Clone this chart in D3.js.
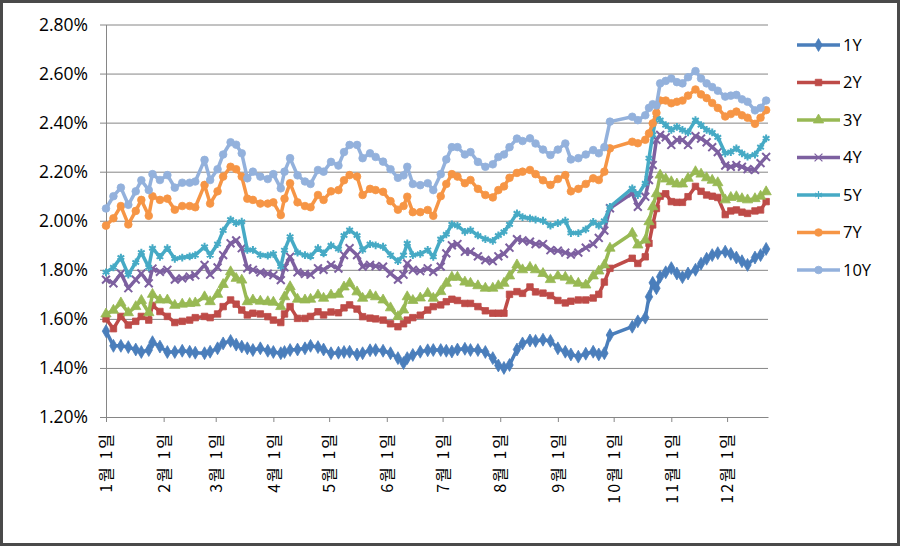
<!DOCTYPE html>
<html><head><meta charset="utf-8">
<script src="https://cdn.jsdelivr.net/npm/d3@7"></script>
<style>body{margin:0;background:#fff}svg{display:block}</style>
</head><body><svg id="c" width="901" height="547"></svg>
<script>
const dates = ["2015-01-01","2015-01-05","2015-01-09","2015-01-13","2015-01-17","2015-01-20","2015-01-24","2015-01-26","2015-01-30",
"2015-02-03","2015-02-07","2015-02-11","2015-02-15","2015-02-18","2015-02-23","2015-02-26",
"2015-03-02","2015-03-05","2015-03-09","2015-03-12","2015-03-15","2015-03-18","2015-03-21","2015-03-25","2015-03-29",
"2015-04-01","2015-04-05","2015-04-07","2015-04-10","2015-04-14","2015-04-18","2015-04-21","2015-04-25","2015-04-28",
"2015-05-02","2015-05-06","2015-05-09","2015-05-12","2015-05-16","2015-05-19","2015-05-23","2015-05-26","2015-05-30",
"2015-06-03","2015-06-07","2015-06-10","2015-06-12","2015-06-15","2015-06-19","2015-06-23","2015-06-26","2015-06-30",
"2015-07-03","2015-07-06","2015-07-09","2015-07-13","2015-07-16","2015-07-20","2015-07-24","2015-07-28","2015-07-31",
"2015-08-03","2015-08-06","2015-08-10","2015-08-13","2015-08-17","2015-08-20","2015-08-24","2015-08-28",
"2015-09-01","2015-09-05","2015-09-08","2015-09-12","2015-09-16","2015-09-20","2015-09-23","2015-09-26","2015-09-29",
"2015-10-11","2015-10-14","2015-10-18","2015-10-20","2015-10-22","2015-10-24","2015-10-26","2015-10-29",
"2015-11-01","2015-11-04","2015-11-07","2015-11-10","2015-11-14","2015-11-17","2015-11-20","2015-11-23","2015-11-26","2015-11-30",
"2015-12-03","2015-12-06","2015-12-09","2015-12-12","2015-12-16","2015-12-19","2015-12-22"];

const y1Y = [1.55,1.49,1.49,1.485,1.475,1.465,1.473,1.505,1.487,
1.465,1.465,1.47,1.466,1.462,1.46,1.466,
1.48,1.50,1.51,1.495,1.487,1.48,1.473,1.48,1.47,
1.465,1.46,1.465,1.473,1.475,1.48,1.49,1.485,1.475,
1.46,1.462,1.465,1.466,1.455,1.46,1.472,1.473,1.47,
1.46,1.44,1.42,1.44,1.453,1.466,1.472,1.473,1.473,
1.47,1.467,1.475,1.478,1.473,1.473,1.465,1.44,1.41,
1.40,1.412,1.475,1.50,1.512,1.51,1.515,1.51,
1.48,1.466,1.455,1.446,1.458,1.466,1.455,1.46,1.534,
1.568,1.59,1.605,1.69,1.747,1.725,1.772,1.79,
1.807,1.785,1.77,1.785,1.80,1.825,1.845,1.86,1.868,1.874,
1.865,1.85,1.835,1.82,1.85,1.86,1.885];

const y2Y = [1.60,1.56,1.61,1.575,1.59,1.61,1.595,1.655,1.63,
1.61,1.585,1.59,1.595,1.605,1.61,1.605,
1.62,1.65,1.677,1.66,1.636,1.616,1.623,1.62,1.609,
1.595,1.585,1.62,1.65,1.602,1.602,1.61,1.629,1.616,
1.628,1.625,1.645,1.657,1.64,1.609,1.603,1.60,1.595,
1.58,1.568,1.58,1.595,1.605,1.615,1.636,1.65,1.657,
1.67,1.68,1.675,1.663,1.663,1.65,1.633,1.623,1.623,
1.623,1.70,1.711,1.704,1.73,1.71,1.705,1.695,
1.675,1.665,1.672,1.677,1.677,1.685,1.70,1.75,1.806,
1.847,1.826,1.853,1.908,1.983,2.05,2.10,2.11,
2.078,2.075,2.075,2.098,2.14,2.12,2.105,2.10,2.095,2.025,
2.04,2.044,2.035,2.03,2.04,2.044,2.078];

const y3Y = [1.62,1.635,1.665,1.625,1.65,1.675,1.625,1.70,1.677,
1.677,1.655,1.66,1.663,1.665,1.69,1.67,
1.70,1.74,1.792,1.765,1.758,1.67,1.677,1.672,1.67,
1.668,1.65,1.69,1.731,1.68,1.677,1.68,1.697,1.684,
1.697,1.70,1.73,1.745,1.71,1.684,1.697,1.69,1.677,
1.645,1.609,1.636,1.69,1.675,1.685,1.704,1.684,1.711,
1.745,1.77,1.77,1.75,1.745,1.735,1.725,1.725,1.735,
1.745,1.775,1.82,1.80,1.81,1.80,1.785,1.76,
1.775,1.77,1.755,1.745,1.738,1.775,1.795,1.82,1.888,
1.949,1.901,1.921,1.996,2.057,2.11,2.186,2.17,
2.159,2.15,2.15,2.173,2.20,2.19,2.175,2.165,2.155,2.085,
2.095,2.098,2.09,2.085,2.09,2.10,2.118];

const y4Y = [1.76,1.745,1.785,1.725,1.76,1.785,1.745,1.805,1.792,
1.80,1.76,1.765,1.772,1.778,1.82,1.78,
1.81,1.86,1.908,1.92,1.888,1.806,1.80,1.79,1.784,
1.778,1.758,1.81,1.853,1.79,1.783,1.78,1.806,1.80,
1.82,1.805,1.86,1.888,1.86,1.813,1.82,1.815,1.813,
1.785,1.76,1.78,1.826,1.80,1.795,1.806,1.792,1.813,
1.867,1.90,1.905,1.874,1.874,1.855,1.84,1.835,1.855,
1.865,1.89,1.925,1.92,1.915,1.905,1.905,1.88,
1.878,1.87,1.862,1.87,1.89,1.905,1.93,1.96,2.051,
2.112,2.057,2.098,2.166,2.227,2.33,2.35,2.34,
2.309,2.33,2.33,2.309,2.345,2.335,2.32,2.30,2.28,2.225,
2.22,2.227,2.22,2.21,2.207,2.235,2.26];

const y5Y = [1.79,1.81,1.85,1.78,1.83,1.87,1.81,1.888,1.853,
1.888,1.845,1.85,1.855,1.86,1.894,1.86,
1.905,1.96,2.005,1.99,1.996,1.881,1.881,1.86,1.858,
1.865,1.813,1.88,1.935,1.87,1.86,1.855,1.888,1.867,
1.90,1.885,1.94,1.962,1.94,1.881,1.905,1.90,1.894,
1.86,1.835,1.86,1.908,1.86,1.865,1.881,1.853,1.925,
1.945,1.985,1.98,1.955,1.962,1.94,1.925,1.918,1.94,
1.955,1.985,2.03,2.015,2.01,2.005,2.0,1.98,
1.99,2.0,1.95,1.95,1.965,1.995,1.98,2.00,2.057,
2.132,2.105,2.153,2.255,2.35,2.43,2.41,2.39,
2.37,2.383,2.37,2.36,2.41,2.39,2.37,2.36,2.34,2.275,
2.28,2.295,2.275,2.261,2.27,2.30,2.336];

const y7Y = [1.98,2.01,2.06,1.985,2.04,2.085,2.02,2.10,2.085,
2.09,2.045,2.06,2.06,2.055,2.146,2.07,
2.12,2.18,2.22,2.21,2.18,2.09,2.085,2.07,2.07,
2.075,2.023,2.09,2.153,2.075,2.06,2.055,2.105,2.085,
2.12,2.125,2.165,2.186,2.18,2.105,2.13,2.125,2.118,
2.08,2.045,2.06,2.098,2.035,2.035,2.044,2.02,2.10,
2.15,2.19,2.18,2.153,2.166,2.13,2.105,2.095,2.125,
2.14,2.175,2.195,2.20,2.207,2.19,2.165,2.146,
2.17,2.186,2.12,2.13,2.15,2.173,2.166,2.20,2.295,
2.322,2.316,2.33,2.356,2.397,2.44,2.49,2.49,
2.479,2.485,2.49,2.51,2.535,2.515,2.50,2.48,2.46,2.425,
2.435,2.445,2.43,2.42,2.395,2.42,2.451];

const y10Y = [2.05,2.10,2.135,2.065,2.12,2.165,2.125,2.19,2.166,
2.186,2.135,2.155,2.155,2.16,2.248,2.166,
2.21,2.27,2.32,2.31,2.275,2.173,2.20,2.18,2.17,
2.19,2.132,2.20,2.255,2.185,2.16,2.15,2.207,2.20,
2.24,2.225,2.28,2.309,2.309,2.255,2.275,2.26,2.241,
2.21,2.175,2.185,2.22,2.15,2.145,2.153,2.125,2.19,
2.25,2.30,2.30,2.27,2.28,2.24,2.22,2.23,2.26,
2.27,2.30,2.335,2.325,2.336,2.315,2.29,2.268,
2.29,2.315,2.25,2.255,2.27,2.288,2.275,2.30,2.404,
2.424,2.41,2.43,2.46,2.475,2.47,2.56,2.57,
2.58,2.565,2.56,2.585,2.61,2.58,2.56,2.545,2.53,2.506,
2.51,2.513,2.495,2.485,2.45,2.46,2.49];

const seriesNames = ["1Y","2Y","3Y","4Y","5Y","7Y","10Y"];
const seriesValues = [y1Y,y2Y,y3Y,y4Y,y5Y,y7Y,y10Y];
const seriesColors = ["#4A7EBB","#BE4B48","#98B954","#7D60A0","#46AAC5","#F69545","#93B1DC"];
const seriesMarkers = ["diamond","square","triangle","times","asterisk","circle","circle"];
const yTicks = [1.2,1.4,1.6,1.8,2.0,2.2,2.4,2.6,2.8];
const monthTickDates = ["2015-01-01","2015-02-01","2015-03-01","2015-04-01","2015-05-01","2015-06-01","2015-07-01","2015-08-01","2015-09-01","2015-10-01","2015-11-01","2015-12-01"];
const monthTickLabels = ["1월 1일","2월 1일","3월 1일","4월 1일","5월 1일","6월 1일","7월 1일","8월 1일","9월 1일","10월 1일","11월 1일","12월 1일"];
const xDomain = ["2015-01-01","2015-12-23"];

const parse = d3.timeParse("%Y-%m-%d");
const svg = d3.select("#c");
svg.append("rect").attr("x",1.5).attr("y",1.5).attr("width",897).attr("height",543)
  .attr("fill","#fff").attr("stroke","#4a4a4a").attr("stroke-width",3);

const L=106,R=768,T=24.5,B=417;
const x = d3.scaleTime().domain(xDomain.map(parse)).range([L,R]);
const y = d3.scaleLinear().domain([1.2,2.8]).range([B,T]);
const gridC="#868686";

// gridlines
svg.append("g").attr("transform",`translate(${L},0)`)
  .call(d3.axisLeft(y).tickValues(yTicks.slice(1)).tickSize(-(R-L)).tickFormat(""))
  .call(g=>g.select(".domain").remove())
  .selectAll("line").attr("stroke",gridC).attr("stroke-width",1);

// y axis
const ya = svg.append("g").attr("transform",`translate(${L},0)`)
  .call(d3.axisLeft(y).tickValues(yTicks).tickSize(6).tickSizeOuter(0).tickPadding(12).tickFormat(d=>d.toFixed(2)+"%"));
ya.select(".domain").attr("stroke",gridC);
ya.selectAll("line").attr("stroke",gridC);
ya.selectAll("text").attr("font-family","'Open Sans',sans-serif").attr("font-size",17.5).attr("fill","#000").attr("dy","0.34em");

// x axis
const xa = svg.append("g").attr("transform",`translate(0,${B})`)
  .call(d3.axisBottom(x).tickValues(monthTickDates.map(parse)).tickSize(5).tickSizeOuter(0)
    .tickFormat((d,i)=>monthTickLabels[i]));
xa.select(".domain").attr("stroke",gridC);
xa.selectAll("line").attr("stroke",gridC);
xa.selectAll("text").attr("font-family","'Noto Sans CJK KR',sans-serif").attr("font-size",16)
  .attr("fill","#000").attr("letter-spacing","2px")
  .attr("transform","rotate(-90)").attr("text-anchor","end")
  .attr("x",-15).attr("y",0).attr("dy","0.36em");

// markers
function symbolFor(name){
  switch(name){
    case "diamond": return d3.symbol().type(d3.symbolDiamond).size(48);
    case "square": return d3.symbol().type(d3.symbolSquare).size(42);
    case "triangle": return d3.symbol().type(d3.symbolTriangle).size(46);
    case "times": return d3.symbol().type(d3.symbolTimes||d3.symbolX||d3.symbolCross).size(42);
    case "asterisk": return d3.symbol().type(d3.symbolAsterisk||d3.symbolCross).size(42);
    default: return d3.symbol().type(d3.symbolCircle).size(46);
  }
}
const strokeSyms = new Set(["times","asterisk"]);

const line = d3.line().x(d=>x(d.date)).y(d=>y(d.v));
seriesNames.forEach((name,si)=>{
  const data = dates.map((dt,i)=>({date:parse(dt),v:seriesValues[si][i]}));
  const g = svg.append("g");
  g.append("path").datum(data).attr("d",line).attr("fill","none")
    .attr("stroke",seriesColors[si]).attr("stroke-width",3.5).attr("stroke-linejoin","round").attr("stroke-linecap","round");
  const sym = symbolFor(seriesMarkers[si]);
  const isStroke = strokeSyms.has(seriesMarkers[si]);
  g.selectAll("path.m").data(data).join("path").attr("class","m")
    .attr("transform",d=>`translate(${x(d.date)},${y(d.v)})`)
    .attr("d",sym())
    .attr("fill",isStroke?"none":seriesColors[si])
    .attr("stroke",seriesColors[si]).attr("stroke-width",isStroke?2:0.8);
});

// legend
const lg = svg.append("g");
seriesNames.forEach((name,si)=>{
  const yy = 45 + si*37.5;
  const g = lg.append("g").attr("transform",`translate(0,${yy})`);
  g.append("line").attr("x1",797).attr("x2",840).attr("y1",0).attr("y2",0)
    .attr("stroke",seriesColors[si]).attr("stroke-width",3.5);
  const isStroke = strokeSyms.has(seriesMarkers[si]);
  g.append("path").attr("transform","translate(818.5,0)").attr("d",symbolFor(seriesMarkers[si])())
    .attr("fill",isStroke?"none":seriesColors[si]).attr("stroke",seriesColors[si]).attr("stroke-width",isStroke?1.2:0.8);
  g.append("text").attr("x",843).attr("y",0).attr("dy","0.35em").text(name)
    .attr("font-family","'Open Sans',sans-serif").attr("font-size",16.5).attr("fill","#000");
});
</script></body></html>
